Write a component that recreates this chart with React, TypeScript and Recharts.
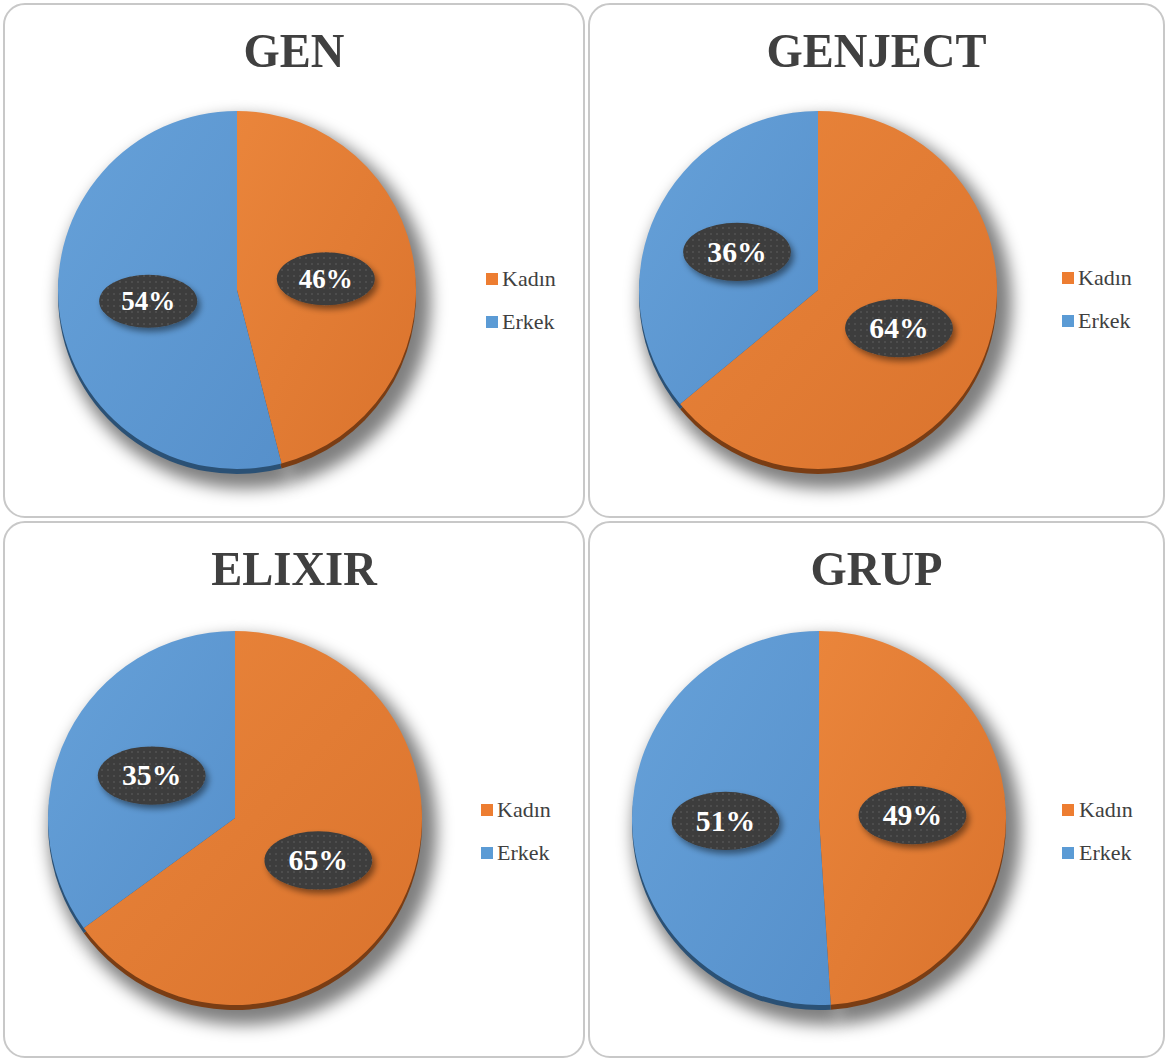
import React from "react";
import { PieChart, Pie, Cell } from "recharts";

const CATEGORIES = ["Kadın", "Erkek"];
const TITLES = ["GEN", "GENJECT", "ELIXIR", "GRUP"];
const KADIN = [46, 64, 65, 49];
const ERKEK = [54, 36, 35, 51];

const COLORS = ["#ED7D31", "#5B9BD5"];
const FILLS = ["url(#gradOrange)", "url(#gradBlue)"];
const RIM = ["#7a3d14", "#2b5175"];

const PANELS = [
  { left: 3, top: 3, width: 582, height: 515, cx: 234, cy: 287, r: 179, legX: 483, legTextX: 499, legY: 265, lab: 1 },
  { left: 588, top: 3, width: 577, height: 515, cx: 230, cy: 287, r: 179, legX: 474, legTextX: 490, legY: 264, lab: 1.1 },
  { left: 3, top: 521, width: 582, height: 537, cx: 232, cy: 297, r: 187, legX: 478, legTextX: 494, legY: 278, lab: 1.1 },
  { left: 588, top: 521, width: 577, height: 537, cx: 231, cy: 297, r: 187, legX: 474, legTextX: 491, legY: 278, lab: 1.1 },
];

const serif =
  "\"Liberation Serif\", Tinos, \"Times New Roman\", Times, \"Noto Serif\", FreeSerif, \"DejaVu Serif\", serif";

function makeLabel(scale: number) {
  return (props: any) => {
    const { cx, cy, midAngle, outerRadius, value } = props;
    const rad = (Math.PI / 180) * midAngle;
    const x = cx + outerRadius * 0.5 * Math.cos(rad);
    const y = cy - outerRadius * 0.5 * Math.sin(rad);
    return (
      <g>
        <ellipse
          cx={x}
          cy={y}
          rx={49 * scale}
          ry={26.5 * scale}
          fill="url(#dots)"
          filter="url(#labelShadow)"
        />
        <text
          x={x}
          y={y + 9 * scale}
          textAnchor="middle"
          fill="#fff"
          style={{ fontFamily: serif, fontWeight: "bold", fontSize: 27 * scale }}
        >
          {value}%
        </text>
      </g>
    );
  };
}

function Panel({ idx }: { idx: number }) {
  const p = PANELS[idx];
  const data = CATEGORIES.map((name, i) => ({
    name,
    value: i === 0 ? KADIN[idx] : ERKEK[idx],
  }));
  return (
    <div
      style={{
        position: "absolute",
        left: p.left,
        top: p.top,
        width: p.width,
        height: p.height,
      }}
    >
      <div
        style={{
          position: "absolute",
          inset: 0,
          border: "2px solid #c8c8c8",
          borderRadius: 22,
          boxSizing: "border-box",
        }}
      />
      <div
        style={{
          position: "absolute",
          left: 0,
          top: 24,
          width: "100%",
          textAlign: "center",
          fontFamily: serif,
          fontWeight: "bold",
          fontSize: 48,
          lineHeight: "48px",
          color: "#404040",
          transform: "scaleX(0.97)",
        }}
      >
        {TITLES[idx]}
      </div>
      <div style={{ position: "absolute", left: 0, top: 0 }}>
        <PieChart width={p.width} height={p.height} margin={{ top: 0, right: 0, bottom: 0, left: 0 }}>
          <Pie
            data={data}
            dataKey="value"
            nameKey="name"
            cx={p.cx + 8}
            cy={p.cy + 13}
            outerRadius={p.r + 7}
            startAngle={90}
            endAngle={-270}
            stroke="none"
            isAnimationActive={false}
          >
            {data.map((d, i) => (
              <Cell key={`s-${i}`} fill="#000" fillOpacity={0.5} filter="url(#pieShadow)" />
            ))}
          </Pie>
          <Pie
            data={data}
            dataKey="value"
            nameKey="name"
            cx={p.cx}
            cy={p.cy + 5}
            outerRadius={p.r}
            startAngle={90}
            endAngle={-270}
            stroke="none"
            isAnimationActive={false}
          >
            {data.map((d, i) => (
              <Cell key={`r-${i}`} fill={RIM[i]} />
            ))}
          </Pie>
          <Pie
            data={data}
            dataKey="value"
            nameKey="name"
            cx={p.cx}
            cy={p.cy}
            outerRadius={p.r}
            startAngle={90}
            endAngle={-270}
            stroke="none"
            labelLine={false}
            label={makeLabel(p.lab)}
            isAnimationActive={false}
          >
            {data.map((d, i) => (
              <Cell key={`c-${i}`} fill={FILLS[i]} />
            ))}
          </Pie>
        </PieChart>
      </div>
      {CATEGORIES.map((name, i) => (
        <div key={name}>
          <div
            style={{
              position: "absolute",
              left: p.legX,
              top: p.legY + 5 + i * 43,
              width: 12,
              height: 12,
              background: COLORS[i],
            }}
          />
          <div
            style={{
              position: "absolute",
              left: p.legTextX,
              top: p.legY + i * 43,
              fontFamily: serif,
              fontSize: 22,
              lineHeight: "22px",
              color: "#404040",
              whiteSpace: "nowrap",
            }}
          >
            {name}
          </div>
        </div>
      ))}
    </div>
  );
}

export default function App() {
  return (
    <div
      style={{
        position: "absolute",
        left: 0,
        top: 0,
        width: 1165,
        height: 1059,
        background: "#fff",
        overflow: "hidden",
      }}
    >
      <svg width={0} height={0} style={{ position: "absolute" }}>
        <defs>
          <linearGradient id="gradOrange" x1="0" y1="0" x2="1" y2="1">
            <stop offset="0%" stopColor="#EA853B" />
            <stop offset="100%" stopColor="#DA732D" />
          </linearGradient>
          <linearGradient id="gradBlue" x1="0" y1="0" x2="1" y2="1">
            <stop offset="0%" stopColor="#66A1D9" />
            <stop offset="100%" stopColor="#5690CB" />
          </linearGradient>
          <pattern id="dots" width="6" height="6" patternUnits="userSpaceOnUse">
            <rect width="6" height="6" fill="#3c3c3c" />
            <circle cx="3" cy="3" r="0.9" fill="#565656" />
          </pattern>
          <filter id="labelShadow" x="-30%" y="-30%" width="160%" height="170%">
            <feDropShadow dx="3" dy="4" stdDeviation="3" floodColor="#000" floodOpacity="0.45" />
          </filter>
          <filter id="pieShadow" x="-30%" y="-30%" width="160%" height="160%">
            <feGaussianBlur stdDeviation="8" />
          </filter>
        </defs>
      </svg>
      {TITLES.map((t, i) => (
        <Panel key={t} idx={i} />
      ))}
    </div>
  );
}
